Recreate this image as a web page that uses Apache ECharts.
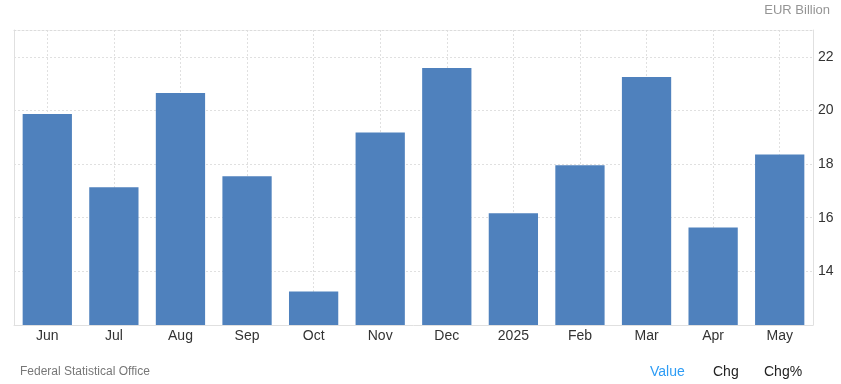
<!DOCTYPE html>
<html>
<head>
<meta charset="utf-8">
<script src="https://cdn.jsdelivr.net/npm/echarts@6/dist/echarts.min.js"></script>
<style>
html,body{margin:0;padding:0;background:#fff;}
#chart{width:841px;height:384px;}
</style>
</head>
<body>
<div id="chart"></div>
<script>
const categories = ['Jun','Jul','Aug','Sep','Oct','Nov','Dec','2025','Feb','Mar','Apr','May'];
const values = [19.87, 17.14, 20.65, 17.55, 13.25, 19.18, 21.58, 16.17, 17.96, 21.25, 15.64, 18.36];
const yTicks = [14, 16, 18, 20, 22];
const unitLabel = 'EUR Billion';
const sourceLabel = 'Federal Statistical Office';
const tabs = ['Value', 'Chg', 'Chg%'];

const FONT = '"Liberation Sans", Arial, sans-serif';
const chart = echarts.init(document.getElementById('chart'), null, {renderer: 'canvas'});
const gridTop = 30, gridBottom = 59, gridLeft = 14, gridRight = 28;
const band = (841 - gridLeft - gridRight) / categories.length;

chart.setOption({
  animation: false,
  backgroundColor: '#fff',
  textStyle: {fontFamily: FONT},
  grid: [
    {left: gridLeft, right: gridRight, top: gridTop, bottom: gridBottom, containLabel: false},
    {left: gridLeft + band / 2, right: gridRight + band / 2, top: gridTop, bottom: gridBottom, containLabel: false}
  ],
  xAxis: [
    {
      type: 'category', gridIndex: 0, data: categories, position: 'bottom',
      axisLine: {show: true, lineStyle: {color: '#e0e0e0', width: 1}},
      axisTick: {show: false},
      axisLabel: {color: '#333', fontSize: 14, margin: 4, fontFamily: FONT},
      splitLine: {show: false}
    },
    {
      type: 'category', gridIndex: 0, data: categories, position: 'top',
      axisLine: {show: true, lineStyle: {color: '#dcdcdc', width: 1, type: [2, 2]}},
      axisTick: {show: false}, axisLabel: {show: false}, splitLine: {show: false}
    },
    {
      type: 'category', gridIndex: 1, data: categories, boundaryGap: false,
      axisLine: {show: false}, axisTick: {show: false}, axisLabel: {show: false},
      splitLine: {show: true, lineStyle: {color: '#e0e0e0', width: 1, type: [2, 2]}}
    }
  ],
  yAxis: [
    {
      type: 'value', gridIndex: 0, position: 'right', min: 12, max: 23, interval: 2,
      axisLine: {show: true, lineStyle: {color: '#e0e0e0', width: 1}},
      axisTick: {show: false},
      axisLabel: {
        color: '#333', fontSize: 14, margin: 5, fontFamily: FONT,
        formatter: v => (yTicks.indexOf(v) >= 0 ? String(v) : '')
      },
      splitLine: {show: true, lineStyle: {color: '#e0e0e0', width: 1, type: [2, 2]}}
    },
    {
      type: 'value', gridIndex: 0, position: 'left', min: 12, max: 23, interval: 2,
      axisLine: {show: true, lineStyle: {color: '#e0e0e0', width: 1}},
      axisTick: {show: false}, axisLabel: {show: false}, splitLine: {show: false}
    },
    {
      type: 'value', gridIndex: 1, min: 12, max: 23, show: false
    }
  ],
  series: [{
    type: 'bar', xAxisIndex: 0, yAxisIndex: 0, data: values,
    barCategoryGap: '26%',
    itemStyle: {color: '#4f81bd'},
    silent: true
  }],
  graphic: [
    {type: 'text', right: 11, top: 4, style: {text: unitLabel, fill: '#959595', font: '13px ' + FONT}},
    {type: 'text', left: 20, top: 366, style: {text: sourceLabel, fill: '#777', font: '12px ' + FONT}},
    {type: 'text', left: 650, top: 365, style: {text: tabs[0], fill: '#2d9cf5', font: '14px ' + FONT}},
    {type: 'text', left: 713, top: 365, style: {text: tabs[1], fill: '#222', font: '14px ' + FONT}},
    {type: 'text', left: 764, top: 365, style: {text: tabs[2], fill: '#222', font: '14px ' + FONT}}
  ]
});
</script>
</body>
</html>
